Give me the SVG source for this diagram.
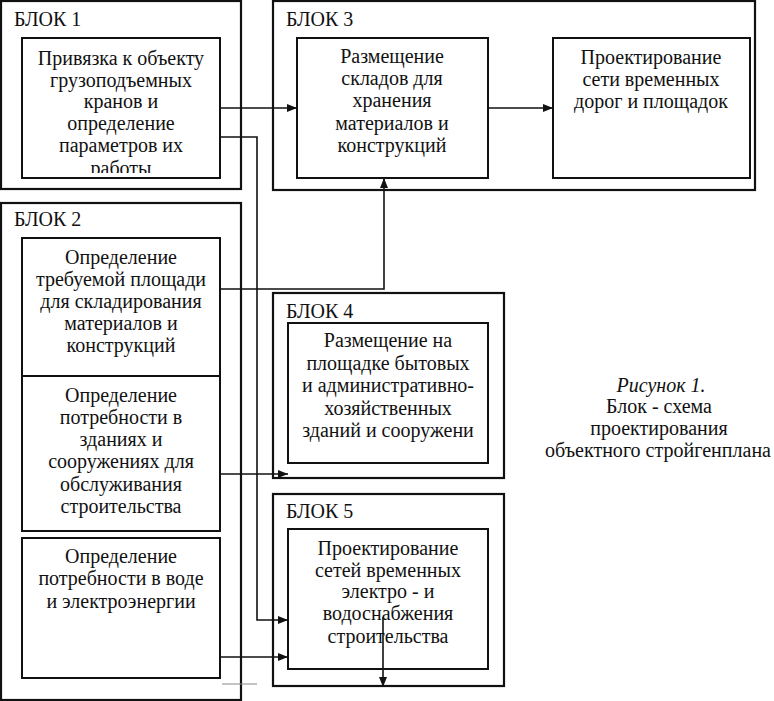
<svg xmlns="http://www.w3.org/2000/svg" width="774" height="701" viewBox="0 0 774 701">
<style>
text{font-family:"Liberation Serif","Times New Roman",serif;font-size:20px;fill:#111}
.c{text-anchor:middle}
.outer{fill:none;stroke:#111;stroke-width:2.2}
.inner{fill:none;stroke:#111;stroke-width:2}
.ln{fill:none;stroke:#111;stroke-width:1.6}
</style>
<defs>
<marker id="ah" markerWidth="10" markerHeight="8" refX="10" refY="4" orient="auto" markerUnits="userSpaceOnUse">
<path d="M0,0 L10,4 L0,8 Z" fill="#111"/>
</marker>
<clipPath id="clip1"><rect x="22" y="38" width="198" height="135"/></clipPath>
</defs>
<rect width="774" height="701" fill="#fff"/>

<g id="block1">
<rect class="outer" x="1" y="1" width="240" height="188"/>
<text x="14" y="26">БЛОК 1</text>
<g id="b1-node">
<g clip-path="url(#clip1)">
<text class="c" x="121" y="65">Привязка к объекту</text>
<text class="c" x="121" y="87">грузоподъемных</text>
<text class="c" x="121" y="108">кранов и</text>
<text class="c" x="121" y="130">определение</text>
<text class="c" x="121" y="152">параметров их</text>
<text class="c" x="121" y="175">работы</text>
</g>
<rect class="inner" x="22" y="38" width="198" height="140"/>
</g>
</g>

<g id="block3">
<rect class="outer" x="273" y="1" width="482" height="189"/>
<text x="286" y="26">БЛОК 3</text>
<g id="b3-node1">
<rect class="inner" x="297" y="38" width="191" height="140"/>
<text class="c" x="392" y="63">Размещение</text>
<text class="c" x="392" y="85">складов для</text>
<text class="c" x="392" y="107">хранения</text>
<text class="c" x="392" y="130">материалов и</text>
<text class="c" x="392" y="152">конструкций</text>
</g>
<g id="b3-node2">
<rect class="inner" x="553" y="38" width="197" height="140"/>
<text class="c" x="651" y="64">Проектирование</text>
<text class="c" x="651" y="86">сети временных</text>
<text class="c" x="651" y="108">дорог и площадок</text>
</g>
</g>

<g id="block2">
<rect class="outer" x="1" y="203" width="240" height="497"/>
<text x="14" y="226">БЛОК 2</text>
<g id="b2-node1">
<rect class="inner" x="22" y="238" width="198" height="138"/>
<text class="c" x="121" y="264">Определение</text>
<text class="c" x="121" y="286">требуемой площади</text>
<text class="c" x="121" y="308">для складирования</text>
<text class="c" x="121" y="330">материалов и</text>
<text class="c" x="121" y="352">конструкций</text>
</g>
<g id="b2-node2">
<rect class="inner" x="22" y="376" width="198" height="155"/>
<text class="c" x="121" y="402">Определение</text>
<text class="c" x="121" y="424">потребности в</text>
<text class="c" x="121" y="446">зданиях и</text>
<text class="c" x="121" y="468">сооружениях для</text>
<text class="c" x="121" y="491">обслуживания</text>
<text class="c" x="121" y="513">строительства</text>
</g>
<g id="b2-node3">
<rect class="inner" x="22" y="538" width="198" height="140"/>
<text class="c" x="121" y="563">Определение</text>
<text class="c" x="121" y="585">потребности в воде</text>
<text class="c" x="121" y="608">и электроэнергии</text>
</g>
</g>

<g id="block4">
<rect class="outer" x="273" y="293" width="231" height="185"/>
<text x="286" y="318">БЛОК 4</text>
<g id="b4-node">
<rect class="inner" x="288" y="323" width="200" height="140"/>
<text class="c" x="388" y="347">Размещение на</text>
<text class="c" x="388" y="370">площадке бытовых</text>
<text class="c" x="388" y="392">и административно-</text>
<text class="c" x="388" y="415">хозяйственных</text>
<text class="c" x="388" y="437">зданий и сооружени</text>
</g>
</g>

<g id="block5">
<rect class="outer" x="273" y="494" width="231" height="192"/>
<text x="286" y="518">БЛОК 5</text>
<g id="b5-node">
<rect class="inner" x="288" y="529" width="200" height="140"/>
<text class="c" x="388" y="555">Проектирование</text>
<text class="c" x="388" y="577">сетей временных</text>
<text class="c" x="388" y="598">электро - и</text>
<text class="c" x="388" y="620">водоснабжения</text>
<text class="c" x="388" y="643">строительства</text>
</g>
</g>

<g id="caption">
<text class="c" x="661" y="392" font-style="italic">Рисунок 1.</text>
<text class="c" x="659" y="413">Блок - схема</text>
<text class="c" x="659" y="435">проектирования</text>
<text class="c" x="658" y="457" textLength="226" lengthAdjust="spacingAndGlyphs">объектного стройгенплана</text>
</g>

<g id="connectors">
<path class="ln" d="M220,108 H297" marker-end="url(#ah)"/>
<path class="ln" d="M220,137 H257 V620 H288" marker-end="url(#ah)"/>
<path class="ln" d="M488,108 H553" marker-end="url(#ah)"/>
<path class="ln" d="M220,289 H384 V178" marker-end="url(#ah)"/>
<path class="ln" d="M220,474 H288" marker-end="url(#ah)"/>
<path class="ln" d="M220,657 H288" marker-end="url(#ah)"/>
<path class="ln" d="M383,617 V687" marker-end="url(#ah)"/>
<path d="M222,684 H257" stroke="#888" stroke-width="1" fill="none"/>
</g>
</svg>
